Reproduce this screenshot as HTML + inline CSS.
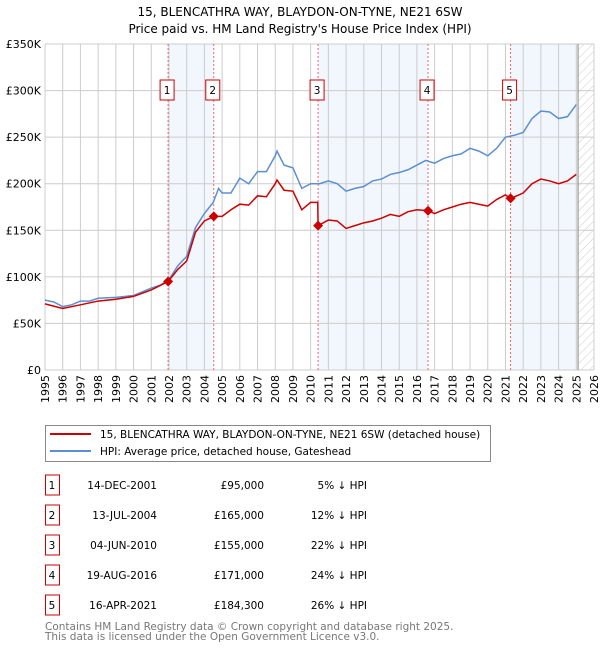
<!DOCTYPE html>
<html><head><meta charset="utf-8"><style>
body{margin:0;width:600px;height:650px;background:#fff;font-family:"DejaVu Sans","Liberation Sans",sans-serif;overflow:hidden}
svg{position:absolute;left:0;top:0}
</style></head><body>
<svg id="c" width="600" height="650" xmlns="http://www.w3.org/2000/svg">
<text x="300" y="16" text-anchor="middle" font-size="12">15, BLENCATHRA WAY, BLAYDON-ON-TYNE, NE21 6SW</text>
<text x="300" y="33" text-anchor="middle" font-size="12">Price paid vs. HM Land Registry's House Price Index (HPI)</text>
<defs><pattern id="h" width="6" height="6" patternUnits="userSpaceOnUse" patternTransform="rotate(45)"><line x1="0" y1="0" x2="0" y2="6" stroke="#ccc" stroke-width="1"/></pattern></defs>
<g id="plot"></g>
<g>
<rect x="45.5" y="425.5" width="445" height="36" fill="#fff" stroke="#888"/>
<line x1="50" y1="434" x2="91" y2="434" stroke="#cc0000" stroke-width="2"/>
<text x="100" y="438" font-size="10.5">15, BLENCATHRA WAY, BLAYDON-ON-TYNE, NE21 6SW (detached house)</text>
<line x1="50" y1="451" x2="91" y2="451" stroke="#5b8fd4" stroke-width="2"/>
<text x="100" y="455" font-size="10.5">HPI: Average price, detached house, Gateshead</text>
</g>
<g id="tbl" font-size="10.5"></g>
<text x="45" y="630" font-size="10.5" fill="#777">Contains HM Land Registry data © Crown copyright and database right 2025.</text>
<text x="45" y="640" font-size="10.5" fill="#777">This data is licensed under the Open Government Licence v3.0.</text>
</svg>
<script>
const hpiYears=[1995,1995.5,1996,1996.5,1997,1997.5,1998,1999,2000,2000.5,2001,2001.5,2002,2002.5,2003,2003.5,2004,2004.5,2004.8,2005,2005.5,2006,2006.5,2007,2007.5,2008,2008.1,2008.5,2009,2009.5,2010,2010.5,2011,2011.5,2012,2012.5,2013,2013.5,2014,2014.5,2015,2015.5,2016,2016.5,2017,2017.5,2018,2018.5,2019,2019.5,2020,2020.5,2021,2021.5,2022,2022.5,2023,2023.5,2024,2024.5,2025];
const hpiValues=[75,73,68,70,74,74,77,78,80,84,88,91,97,112,122,153,168,180,195,190,190,206,200,213,213,230,235,220,217,195,200,200,203,200,192,195,197,203,205,210,212,215,220,225,222,227,230,232,238,235,230,238,250,252,255,270,278,277,270,272,285];
const ppYears=[1995,1996,1997,1998,1999,2000,2001,2001.95,2002.5,2003,2003.5,2004,2004.53,2005,2005.5,2006,2006.5,2007,2007.5,2008,2008.1,2008.5,2009,2009.5,2010,2010.4,2010.42,2011,2011.5,2012,2012.5,2013,2013.5,2014,2014.5,2015,2015.5,2016,2016.63,2017,2017.5,2018,2018.5,2019,2019.5,2020,2020.5,2021,2021.29,2022,2022.5,2023,2023.5,2024,2024.5,2025];
const ppValues=[71,66,70,74,76,79,86,95,108,117,148,160,165,165,172,178,177,187,186,200,204,193,192,172,180,180,155,161,160,152,155,158,160,163,167,165,170,172,171,168,172,175,178,180,178,176,183,188,184,190,200,205,203,200,203,210];
const saleLabels=["1","2","3","4","5"];
const saleYears=[2001.95,2004.53,2010.42,2016.63,2021.29];
const salePrices=[95,165,155,171,184.3];
const saleDates=["14-DEC-2001","13-JUL-2004","04-JUN-2010","19-AUG-2016","16-APR-2021"];
const salePriceText=["£95,000","£165,000","£155,000","£171,000","£184,300"];
const salePct=["5% ↓ HPI","12% ↓ HPI","22% ↓ HPI","24% ↓ HPI","26% ↓ HPI"];
const yTicks=[0,50,100,150,200,250,300,350];
const yTickLabels=["£0","£50K","£100K","£150K","£200K","£250K","£300K","£350K"];
const xTicks=[1995,1996,1997,1998,1999,2000,2001,2002,2003,2004,2005,2006,2007,2008,2009,2010,2011,2012,2013,2014,2015,2016,2017,2018,2019,2020,2021,2022,2023,2024,2025,2026];
const X0=45,X1=594,Y0=370,Y1=44;
const xs=y=>X0+(y-1995)*(X1-X0)/31;
const ys=v=>Y0-v*(Y0-Y1)/350;
const NS="http://www.w3.org/2000/svg";
const g=document.getElementById('plot');
function mk(t,a,p){const e=document.createElementNS(NS,t);for(const k in a)e.setAttribute(k,a[k]);(p||g).appendChild(e);return e;}
// shaded bands
const bands=[[0,1],[2,3],[4,null]];
bands.forEach((b,i)=>{const a=xs(saleYears[b[0]]),e=b[1]===null?xs(2025.1):xs(saleYears[b[1]]);
const r=mk('rect',{x:a,y:Y1,width:e-a,height:Y0-Y1,fill:'#eef3fc','fill-opacity':0.75});

});
const hr=mk('rect',{x:xs(2025.1),y:Y1,width:X1-xs(2025.1),height:Y0-Y1,fill:'url(#h)'});


xTicks.forEach(t=>{const l=mk('line',{x1:xs(t),x2:xs(t),y1:Y1,y2:Y0,stroke:'#ccc'});


const tx=mk('text',{x:0,y:0,'font-size':11,'text-anchor':'end',transform:`translate(${xs(t)+4},${Y0+5}) rotate(-90)`});tx.textContent=t;

});
yTicks.forEach((t,i)=>{const l=mk('line',{x1:X0,x2:X1,y1:ys(t),y2:ys(t),stroke:'#ccc'});


const tx=mk('text',{x:X0-4,y:ys(t)+4,'font-size':11,'text-anchor':'end'});tx.textContent=yTickLabels[i];

});
const vl=mk('line',{x1:xs(2025.1),x2:xs(2025.1),y1:Y1,y2:Y0,stroke:'#888'});


saleYears.forEach((s,i)=>{const l=mk('line',{x1:xs(s),x2:xs(s),y1:Y1,y2:Y0,stroke:'#e66','stroke-dasharray':'2,2'});

});
const hp=mk('polyline',{points:hpiYears.map((y,i)=>xs(y)+','+ys(hpiValues[i])).join(' '),fill:'none',stroke:'#5b8fd4','stroke-width':1.5});


const pp=mk('polyline',{points:ppYears.map((y,i)=>xs(y)+','+ys(ppValues[i])).join(' '),fill:'none',stroke:'#cc0000','stroke-width':1.5});


saleYears.forEach((s,i)=>{const cx=xs(s),cy=ys(salePrices[i]);
const d=mk('polygon',{points:`${cx},${cy-5} ${cx+5},${cy} ${cx},${cy+5} ${cx-5},${cy}`,fill:'#cc0000'});


const b=mk('rect',{x:cx-8,y:80,width:14,height:20,fill:'#fff',stroke:'#cc0000'});


const t=mk('text',{x:cx-1,y:94,'font-size':10.5,'text-anchor':'middle'});t.textContent=saleLabels[i];

});
const tb=document.getElementById('tbl');
saleLabels.forEach((s,i)=>{const y=475+i*30;
const b=mk('rect',{x:45.5,y:y,width:14,height:20,fill:'#fff',stroke:'#cc0000'},tb);


const cols=[[52,s,'middle'],[157,saleDates[i],'end'],[264,salePriceText[i],'end'],[367,salePct[i],'end']];
const nm=['table-index','table-date','table-price','table-hpi-diff'];
cols.forEach((c,j)=>{const t=mk('text',{x:c[0],y:y+14,'text-anchor':c[2]},tb);t.textContent=c[1];

});});
</script>
</body></html>
